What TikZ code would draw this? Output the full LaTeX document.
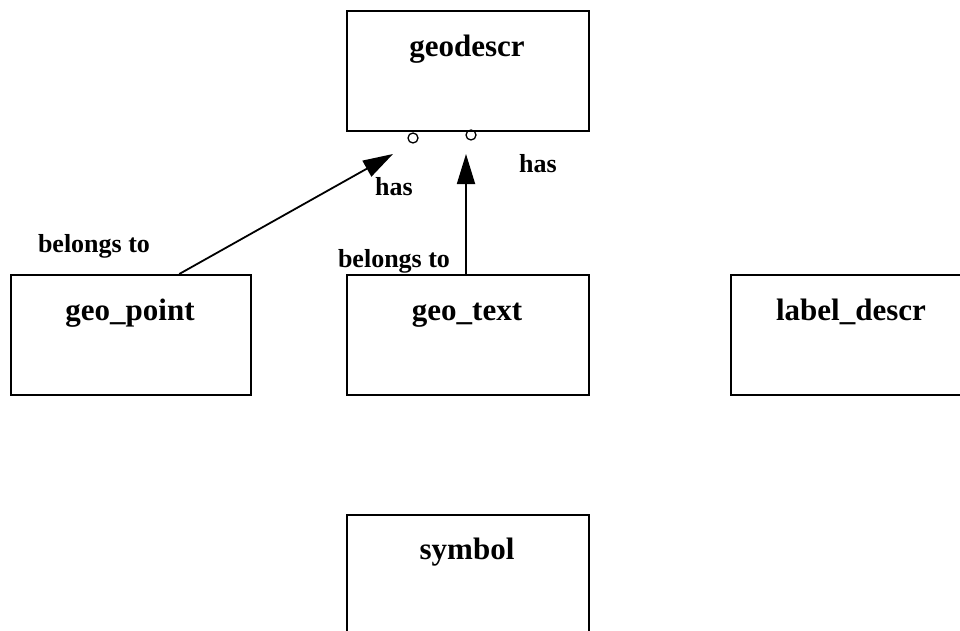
\documentclass[tikz,border=0pt]{standalone}
\usepackage{fontspec}
\setmainfont{Liberation Serif}
\usetikzlibrary{arrows.meta,calc}
\begin{document}
\begin{tikzpicture}[x=1pt,y=-1pt,
  entity/.style={draw,line width=1.8pt,minimum width=242pt,minimum height=120pt,inner sep=0pt,anchor=north west},
  title/.style={font=\fontsize{31}{31}\selectfont\bfseries,anchor=base,inner sep=0pt},
  lbl/.style={font=\fontsize{26}{26}\selectfont\bfseries,anchor=base,inner sep=0pt},
  port/.style={draw,circle,line width=1.3pt,minimum size=10pt,inner sep=0pt},
  conn/.style={line width=1.8pt,-{Triangle[length=30pt,width=18pt]}}]
\useasboundingbox (0,0) rectangle (960,631);
\node[entity] (gd) at (346,10) {};
\node[entity,minimum width=240pt] (gp) at (10,274) {};
\node[entity] (gt) at (346,274) {};
\node[entity] (ld) at (730,274) {};
\node[entity] (sy) at (346,514) {};
\node[title] (gdt) at (467,57) {geodescr};
\node[title] (gpt) at (130,320) {geo\_point};
\node[title] (gtt) at (467,320) {geo\_text};
\node[title] (ldt) at (851,320) {label\_descr};
\node[title] (syt) at (467,559) {symbol};
\node[port] (p1) at (413,138) {};
\node[port] (p2) at (471,135) {};
\coordinate (e1) at (393,154);
\coordinate (e2) at (466,154);
\draw[conn] ($(gp.north west)!0.7!(gp.north east)$) -- (e1);
\draw[conn] (gt.north -| e2) -- (e2);
\node[lbl] (b1) at (94,252) {belongs to};
\node[lbl] (b2) at (394,267) {belongs to};
\node[lbl] (h1) at (394,195) {has};
\node[lbl] (h2) at (538,172) {has};
\end{tikzpicture}
\end{document}
